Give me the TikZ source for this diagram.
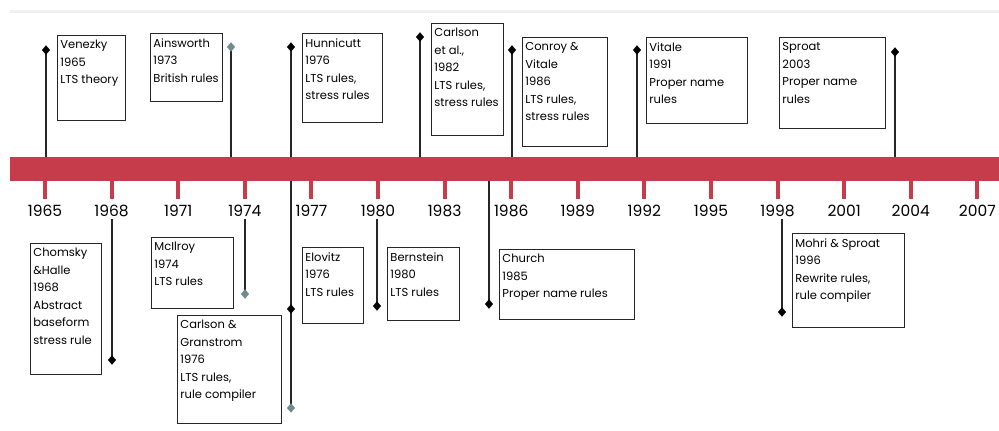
\documentclass[tikz,border=0pt]{standalone}
\usepackage{fontspec}
\setmainfont{Poppins}
\usetikzlibrary{shapes.geometric}
\definecolor{tlred}{RGB}{198,60,74}
\definecolor{dmdgray}{RGB}{110,140,140}
\newcommand\evbox[6]{\node[evt] (#1) at (#2,#3) {\parbox[c][\dimexpr#5pt-10pt\relax][t]{\dimexpr#4pt-6pt\relax}{#6}};}
\tikzset{
  evt/.style={draw=black!85, line width=0.9pt, anchor=north west, inner xsep=3pt, inner ysep=5pt,
    font=\fontsize{11.5}{17.5}\selectfont},
  dmd/.style={diamond, fill=black, draw=black, line width=0.4pt, minimum width=7.5pt, minimum height=9pt, inner sep=0pt},
  dmdg/.style={dmd, fill=dmdgray, draw=dmdgray},
  stem/.style={draw=black!85, line width=1.1pt},
  yearlab/.style={font=\fontsize{15.5}{18}\selectfont, inner sep=2pt},
}
\begin{document}
\begin{tikzpicture}[x=1pt,y=-1pt]
\useasboundingbox (0,0) rectangle (999,431);
\fill[white] (0,0) rectangle (999,431);
\draw[gray!12, line width=3pt] (10,11) -- (999,11);
% bar
\node[fill=tlred, minimum width=989pt, minimum height=24pt, inner sep=0pt, anchor=north west] (bar) at (10,157) {};
% ticks and year labels
\foreach \i in {0,...,14} {
  \pgfmathsetmacro\xx{45+66.6*\i}
  \pgfmathtruncatemacro\yr{1965+3*\i}
  \fill[tlred] (\xx-2,180) rectangle (\xx+2,199);
  \node[yearlab] (y\yr) at (\xx,211) {\yr};
}
% event boxes, upper
\evbox{ven}{57}{35}{68}{85}{Venezky\\1965\\LTS theory}
\evbox{ain}{150}{33}{72}{68}{Ainsworth\\1973\\British rules}
\evbox{hun}{302}{33}{80}{89}{Hunnicutt\\1976\\LTS rules,\\stress rules}
\evbox{car}{431}{23}{72}{112}{Carlson\\et al.,\\1982\\LTS rules,\\stress rules}
\evbox{con}{522}{37}{85}{109}{Conroy \&\\Vitale\\1986\\LTS rules,\\stress rules}
\evbox{vit}{646}{37}{101}{86}{Vitale\\1991\\Proper name\\rules}
\evbox{spr}{779}{37}{106}{91}{Sproat\\2003\\Proper name\\rules}
% event boxes, lower
\evbox{cho}{30}{243}{71}{131}{Chomsky\\\&Halle\\1968\\Abstract\\baseform\\stress rule}
\evbox{mci}{151}{237}{82}{71}{McIlroy\\1974\\LTS rules}
\evbox{cag}{177}{315}{104}{108}{Carlson \&\\Granstrom\\1976\\LTS rules,\\rule compiler}
\evbox{elo}{302}{247}{61}{76}{Elovitz\\1976\\LTS rules}
\evbox{ber}{387}{247}{72}{73}{Bernstein\\1980\\LTS rules}
\evbox{chu}{499}{249}{135}{70}{Church\\1985\\Proper name rules}
\evbox{moh}{792}{233}{112}{94}{Mohri \& Sproat\\1996\\Rewrite rules,\\rule compiler}
% diamond positions
\coordinate (pven) at (46,50);
\coordinate (pain) at (231,47);
\coordinate (phun) at (291,47);
\coordinate (pcar) at (420,37);
\coordinate (pcon) at (512,50);
\coordinate (pvit) at (637,50);
\coordinate (pspr) at (895,52);
\coordinate (pcho) at (112,360);
\coordinate (pmci) at (245,294);
\coordinate (pelo) at (291,309);
\coordinate (pcag) at (291,408);
\coordinate (pber) at (377,306);
\coordinate (pchu) at (489,304);
\coordinate (pmoh) at (782,312);
% stems
\foreach \p in {pven,pain,phun,pcar,pcon,pvit,pspr} \draw[stem] (\p) -- (\p |- bar.north);
\draw[stem] (y1968.south -| pcho) -- (pcho);
\draw[stem] (y1974.south -| pmci) -- (pmci);
\draw[stem] (y1980.south -| pber) -- (pber);
\draw[stem] (y1998.south -| pmoh) -- (pmoh);
\draw[stem] (bar.south -| pcag) -- (pcag);
\draw[stem] (bar.south -| pchu) -- (pchu);
% diamond markers
\foreach \p in {pven,phun,pcar,pcon,pvit,pspr,pcho,pelo,pber,pchu,pmoh} \node[dmd] (d\p) at (\p) {};
\foreach \p in {pain,pmci,pcag} \node[dmdg] (d\p) at (\p) {};
\end{tikzpicture}
\end{document}
